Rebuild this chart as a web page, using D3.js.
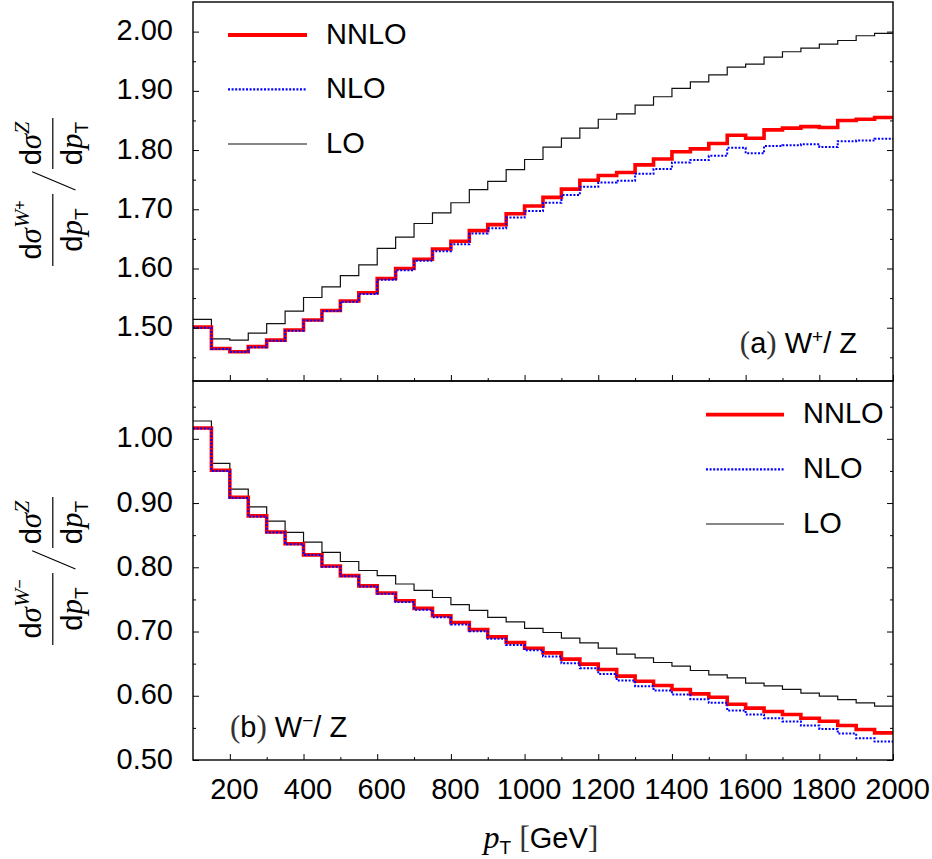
<!DOCTYPE html>
<html><head><meta charset="utf-8">
<script src="https://cdn.jsdelivr.net/npm/d3@7"></script>
<style>
html,body{margin:0;padding:0;background:#fff;}
svg{display:block;}
text{font-family:"Liberation Sans",Arial,sans-serif;fill:#000;}
.mi{font-family:"Liberation Serif","Times New Roman",serif;font-style:italic;}
.rm{font-family:"Liberation Serif","Times New Roman",serif;}
</style></head><body>
<svg id="chart" width="932" height="859"></svg>
<script>
// ---------------- data ----------------
const binLow = [100,150,200,250,300,350,400,450,500,550,600,650,700,750,800,850,900,950,1000,1050,
  1100,1150,1200,1250,1300,1350,1400,1450,1500,1550,1600,1650,1700,1750,1800,1850,1900,1950];
const binHighEnd = 2000;

const topNNLO = [1.501,1.465,1.4595,1.468,1.479,1.496,1.513,1.529,1.545,1.559,1.583,1.600,1.6155,1.633,1.646,1.664,1.674,1.6925,1.7055,1.720,
  1.734,1.749,1.757,1.762,1.775,1.785,1.797,1.802,1.811,1.825,1.820,1.834,1.837,1.8395,1.838,1.850,1.852,1.855];
const topNLO = [1.500,1.464,1.459,1.467,1.478,1.495,1.512,1.528,1.544,1.557,1.581,1.597,1.613,1.629,1.641,1.659,1.668,1.686,1.697,1.711,
  1.724,1.738,1.745,1.748,1.760,1.768,1.779,1.783,1.7905,1.804,1.7945,1.807,1.808,1.810,1.805,1.815,1.816,1.819];
const topLO = [1.514,1.481,1.479,1.491,1.507,1.528,1.551,1.569,1.588,1.606,1.634,1.653,1.676,1.694,1.711,1.733,1.747,1.767,1.784,1.805,
  1.820,1.837,1.852,1.861,1.876,1.890,1.904,1.915,1.927,1.940,1.945,1.957,1.966,1.972,1.979,1.985,1.993,1.997];

const botNNLO = [1.0168,0.951,0.909,0.880,0.855,0.8366,0.8194,0.802,0.787,0.771,0.760,0.748,0.736,0.7245,0.714,0.703,0.6917,0.683,0.674,0.6668,
  0.657,0.6492,0.641,0.6305,0.6227,0.616,0.6097,0.603,0.5978,0.5869,0.5807,0.5755,0.5708,0.565,0.5604,0.5537,0.5474,0.5422];
const botNLO = [1.016,0.950,0.908,0.879,0.854,0.836,0.819,0.801,0.786,0.770,0.759,0.746,0.734,0.7224,0.711,0.7006,0.6886,0.679,0.671,0.6611,
  0.6507,0.643,0.634,0.6237,0.6149,0.6082,0.602,0.5947,0.589,0.577,0.5708,0.565,0.5599,0.5537,0.5484,0.5412,0.5339,0.5287];
const botLO = [1.0277,0.9618,0.9218,0.894,0.8719,0.8543,0.8392,0.8231,0.809,0.795,0.787,0.774,0.764,0.753,0.742,0.733,0.722,0.715,0.705,0.6985,
  0.6897,0.6824,0.6741,0.6648,0.659,0.6518,0.646,0.6393,0.6326,0.628,0.6196,0.6154,0.610,0.604,0.5993,0.594,0.589,0.5838];

const xMajor = [200,400,600,800,1000,1200,1400,1600,1800,2000];
const xMinor = [300,500,700,900,1100,1300,1500,1700,1900];
const topMajor = [1.50,1.60,1.70,1.80,1.90,2.00];
const topMinor = [1.45,1.55,1.65,1.75,1.85,1.95];
const botMajor = [0.50,0.60,0.70,0.80,0.90,1.00];
const botMinor = [0.55,0.65,0.75,0.85,0.95,1.05];
const seriesNames = ["NNLO","NLO","LO"];

// ---------------- layout ----------------
const svg = d3.select("#chart");
const L = 193, R = 893, T1 = 2, M = 381, B2 = 760;
const x = d3.scaleLinear().domain([100,2000]).range([L,R]);
const yTop = d3.scaleLinear().domain([1.41,2.05]).range([M,T1]);
const yBot = d3.scaleLinear().domain([0.50,1.09]).range([B2,M]);

const styles = {
  LO:   {stroke:"#111", width:1.2, dash:null},
  NNLO: {stroke:"#ff0000", width:3.6, dash:null},
  NLO:  {stroke:"#0000ff", width:2.0, dash:"2,1.6"}
};

function stepPath(vals, y){
  const pts = binLow.map((b,i)=>[b, vals[i]]);
  pts.push([binHighEnd, vals[vals.length-1]]);
  return d3.line().x(d=>x(d[0])).y(d=>y(d[1])).curve(d3.curveStepAfter)(pts);
}

function panel(id, y, top, bottom, major, minor, series, showXLabels){
  svg.append("clipPath").attr("id",id).append("rect")
    .attr("x",L).attr("y",top).attr("width",R-L).attr("height",bottom-top);
  const g = svg.append("g").attr("clip-path",`url(#${id})`);
  ["LO","NNLO","NLO"].forEach(k=>{
    const s = styles[k];
    g.append("path").attr("d", stepPath(series[k], y))
      .attr("fill","none").attr("stroke",s.stroke).attr("stroke-width",s.width)
      .attr("stroke-dasharray",s.dash).attr("stroke-linejoin","miter");
  });
  const ax = (axis, tr) => {
    const a = svg.append("g").attr("transform",tr).call(axis);
    a.select(".domain").remove();
    a.selectAll(".tick line").attr("stroke","#000").attr("stroke-width",1);
    return a;
  };
  ax(d3.axisBottom(x).tickValues(xMinor).tickSize(-3).tickFormat(""), `translate(0,${bottom})`);
  const xa = ax(d3.axisBottom(x).tickValues(xMajor).tickSize(-6).tickFormat(showXLabels? d3.format("d") : ""), `translate(0,${bottom})`);
  if(showXLabels){
    xa.selectAll("text").attr("y",39).attr("dy",null).attr("x",4)
      .style("font-size","29px").style("font-family","'Liberation Sans',Arial,sans-serif").attr("fill","#000");
  }
  ax(d3.axisLeft(y).tickValues(minor).tickSize(-3).tickFormat(""), `translate(${L},0)`);
  ax(d3.axisRight(y).tickValues(minor).tickSize(-3).tickFormat(""), `translate(${R},0)`);
  const ya = ax(d3.axisLeft(y).tickValues(major).tickSize(-6).tickFormat(d3.format(".2f")), `translate(${L},0)`);
  ya.selectAll("text").attr("x",-20).attr("dy",null).attr("y",8)
    .style("font-size","29px").style("font-family","'Liberation Sans',Arial,sans-serif").attr("fill","#000");
  ax(d3.axisRight(y).tickValues(major).tickSize(-6).tickFormat(""), `translate(${R},0)`);
  svg.append("rect").attr("x",L).attr("y",top).attr("width",R-L).attr("height",bottom-top)
    .attr("fill","none").attr("stroke","#000").attr("stroke-width",1.4);
}

panel("clipTop", yTop, T1, M, topMajor, topMinor, {NNLO:topNNLO, NLO:topNLO, LO:topLO}, false);
panel("clipBot", yBot, M, B2, botMajor, botMinor, {NNLO:botNNLO, NLO:botNLO, LO:botLO}, true);

// ---------------- legends ----------------
function legend(x0, x1, tx, ys){
  seriesNames.forEach((k,i)=>{
    const s = styles[k];
    svg.append("line").attr("x1",x0).attr("x2",x1).attr("y1",ys[i]).attr("y2",ys[i])
      .attr("stroke",s.stroke).attr("stroke-width",k==="NNLO"?3.8:(k==="NLO"?2.2:1.2))
      .attr("stroke-dasharray",s.dash);
    svg.append("text").attr("x",tx).attr("y",ys[i]+8.5).style("font-size","29px").text(k);
  });
}
legend(228, 307, 326, [35, 89.3, 144]);
legend(706, 784, 803, [414.7, 469.3, 524]);

// ---------------- annotations ----------------
function annot(xpos, ypos, anchor, letter, sign){
  const t = svg.append("text").attr("x",xpos).attr("y",ypos).attr("text-anchor",anchor).style("font-size","29px");
  t.append("tspan").attr("class","rm").style("font-size","31px").attr("fill","#333").text("(");
  t.append("tspan").text(letter);
  t.append("tspan").attr("class","rm").style("font-size","31px").attr("fill","#333").text(")");
  t.append("tspan").text(" W");
  t.append("tspan").attr("dy",-10).style("font-size","19px").text(sign);
  t.append("tspan").attr("dy",10).text("/ Z");
}
annot(857, 352.7, "end", "a", "+");
annot(230, 737.3, "start", "b", "\u2212");

// ---------------- y labels ----------------
function yLabel(cy, sign){
  const g = svg.append("g").attr("transform",`translate(52.8,${cy}) rotate(-90)`);
  g.append("line").attr("x1",-74.5).attr("x2",-2.5).attr("y1",0).attr("y2",0).attr("stroke","#000").attr("stroke-width",1.2);
  const n1 = g.append("text").attr("x",-38.5).attr("y",-12).attr("text-anchor","middle").style("font-size","29px");
  n1.append("tspan").text("d");
  n1.append("tspan").attr("class","mi").style("font-size","31px").text("\u03C3");
  n1.append("tspan").attr("class","mi").attr("dy",-12).style("font-size","22px").text("W");
  n1.append("tspan").attr("dy",-4).style("font-size","16px").text(sign);
  const d1 = g.append("text").attr("x",-38.5).attr("y",29.5).attr("text-anchor","middle").style("font-size","29px");
  d1.append("tspan").text("d");
  d1.append("tspan").attr("class","mi").style("font-size","31px").text("p");
  d1.append("tspan").attr("dy",6).style("font-size","19px").text("T");
  g.append("line").attr("x1",1.5).attr("y1",22.7).attr("x2",19.8).attr("y2",-20.6).attr("stroke","#000").attr("stroke-width",1.1);
  g.append("line").attr("x1",22.5).attr("x2",73.5).attr("y1",0).attr("y2",0).attr("stroke","#000").attr("stroke-width",1.2);
  const n2 = g.append("text").attr("x",48).attr("y",-12).attr("text-anchor","middle").style("font-size","29px");
  n2.append("tspan").text("d");
  n2.append("tspan").attr("class","mi").style("font-size","31px").text("\u03C3");
  n2.append("tspan").attr("class","mi").attr("dy",-12).style("font-size","22px").text("Z");
  const d2 = g.append("text").attr("x",48).attr("y",29.5).attr("text-anchor","middle").style("font-size","29px");
  d2.append("tspan").text("d");
  d2.append("tspan").attr("class","mi").style("font-size","31px").text("p");
  d2.append("tspan").attr("dy",6).style("font-size","19px").text("T");
}
yLabel((T1+M)/2, "+");
yLabel((M+B2)/2, "\u2212");

// ---------------- x title ----------------
const xt = svg.append("text").attr("x",541).attr("y",848).attr("text-anchor","middle").style("font-size","29px");
xt.append("tspan").attr("class","mi").style("font-size","32px").text("p");
xt.append("tspan").attr("dy",6).style("font-size","19px").text("T");
xt.append("tspan").attr("dy",-6).text(" ");
xt.append("tspan").attr("class","rm").attr("fill","#333").style("font-size","32px").text("[");
xt.append("tspan").text("GeV");
xt.append("tspan").attr("class","rm").attr("fill","#333").style("font-size","32px").text("]");
</script>
</body></html>
